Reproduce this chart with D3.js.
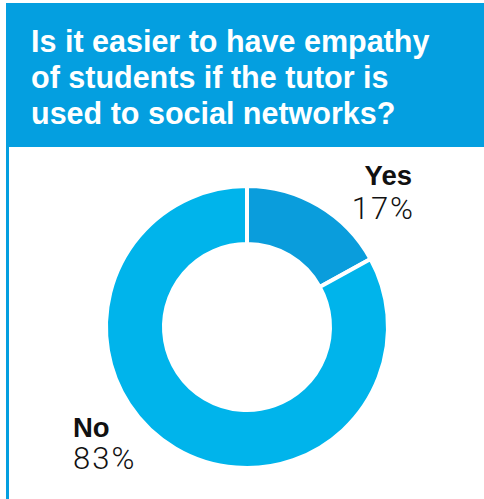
<!DOCTYPE html>
<html>
<head>
<meta charset="utf-8">
<script src="https://cdn.jsdelivr.net/npm/d3@7"></script>
<style>
html,body{margin:0;padding:0;background:#fff;}
svg{display:block;}
</style>
</head>
<body>
<svg id="chart" width="484" height="499"></svg>
<script>
const titleLines = ["Is it easier to have empathy", "of students if the tutor is", "used to social networks?"];
const categories = ["Yes", "No"];
const values = [17, 83];
const colors = ["#0a9ddc", "#00b4eb"];

const svg = d3.select("#chart");
const W = 484, H = 499;
const blue = "#049fe0";

// frame
svg.append("rect").attr("x", 6).attr("y", 3).attr("width", W - 6).attr("height", 144).attr("fill", blue);
svg.append("rect").attr("x", 6).attr("y", 147).attr("width", 3).attr("height", H - 147).attr("fill", blue);

// title
svg.append("g").selectAll("text").data(titleLines).join("text")
  .attr("x", 31).attr("y", (d, i) => 52 + i * 36)
  .attr("fill", "#fff")
  .attr("font-family", "Liberation Sans, Arial, sans-serif")
  .attr("font-weight", "bold").attr("font-size", 30.5)
  .text(d => d);

// donut
const cx = 247, cy = 327, rOuter = 141, rInner = 83;
const pie = d3.pie().sort(null).value(d => d)(values);
const arc = d3.arc().innerRadius(rInner).outerRadius(rOuter);
const g = svg.append("g").attr("transform", `translate(${cx},${cy})`);
g.selectAll("path").data(pie).join("path")
  .attr("d", arc)
  .attr("fill", (d, i) => colors[i])
  .attr("stroke", "#fff").attr("stroke-width", 4).attr("stroke-linejoin", "miter");

// labels
const labelPos = [
  {x: 412, anchor: "end", y1: 185, y2: 219, dx2: 3},
  {x: 73, anchor: "start", y1: 437, y2: 469, dx2: 0}
];
categories.forEach((c, i) => {
  const p = labelPos[i];
  svg.append("text").attr("x", p.x).attr("y", p.y1).attr("text-anchor", p.anchor)
    .attr("font-family", "Liberation Sans, Arial, sans-serif").attr("font-weight", "bold")
    .attr("font-size", 27.5).attr("fill", "#111").text(c);
  svg.append("text").attr("x", p.x + p.dx2).attr("y", p.y2).attr("text-anchor", p.anchor)
    .attr("font-family", "Roboto, sans-serif").attr("font-weight", 300)
    .attr("font-size", 31).attr("letter-spacing", 2).attr("fill", "#111").text(values[i] + "%");
});
</script>
</body>
</html>
